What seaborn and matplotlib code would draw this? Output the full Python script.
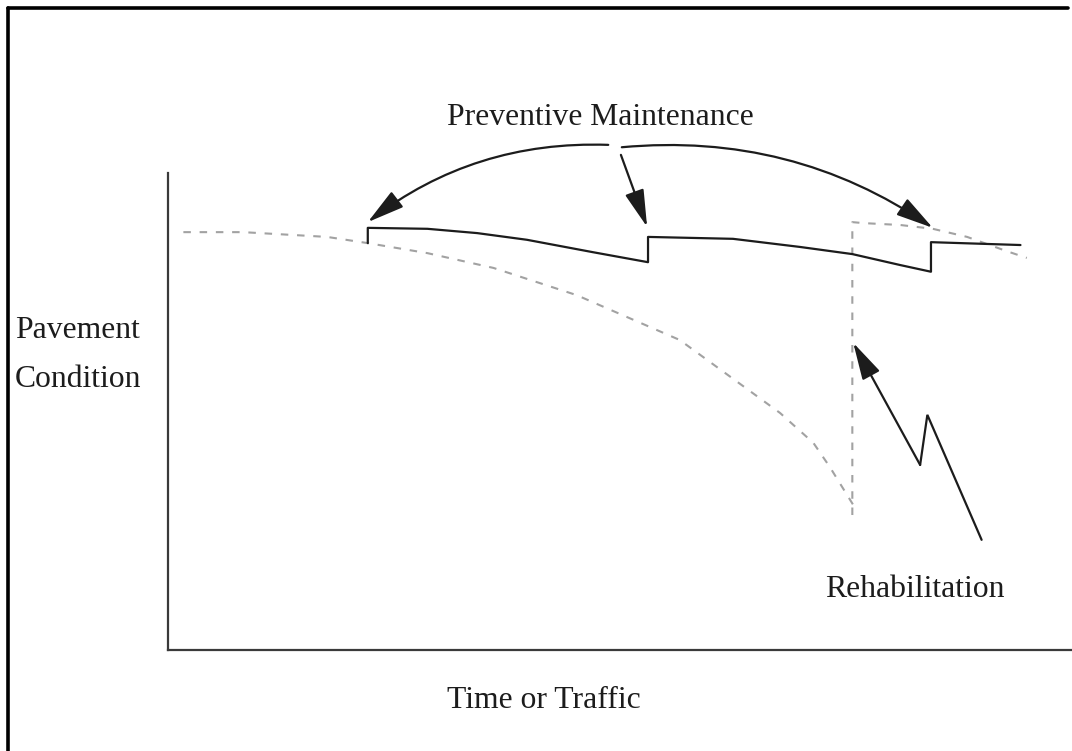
import numpy as np
import matplotlib
matplotlib.use("Agg")
import matplotlib.pyplot as plt
from matplotlib.lines import Line2D
import seaborn as sns

sns.set_theme(style="white")
plt.rcParams["font.family"] = ["Liberation Serif", "DejaVu Serif"]

INK = "#1c1c1c"
DASH = "#a2a2a2"
W, H = 1072, 751

# do-nothing deterioration curve (dashed)
decay_x = [1.7, 8.3, 17.6, 22.1, 28.7, 36.0, 45.2, 56.6, 67.7, 71.4, 73.2, 76.0]
decay_y = [87.6, 87.6, 86.6, 85.3, 83.2, 80.1, 74.4, 65.0, 49.7, 43.4, 38.4, 29.8]

# condition with preventive maintenance treatments (solid sawtooth)
pm_x = [22.1, 22.1, 28.7, 34.2, 39.7, 47.0, 53.1, 53.1, 62.5, 69.9, 75.7, 81.0, 84.4, 84.4, 94.3]
pm_y = [85.3, 88.5, 88.3, 87.4, 86.0, 83.4, 81.3, 86.6, 86.2, 84.5, 83.0, 80.7, 79.3, 85.5, 84.9]

# rehabilitation jump and following decay (dashed)
rehab_x = [75.7, 75.7, 76.9, 81.0, 84.6, 88.4, 92.8, 95.0]
rehab_y = [28.3, 89.7, 89.5, 89.1, 88.3, 86.6, 83.6, 82.2]

# arrows: (start, tip, curvature)
pm_arrows = [((48.7, 105.9), (22.1, 89.7), 0.18),
             ((50.1, 103.8), (53.0, 88.7), 0.0),
             ((50.2, 105.4), (84.6, 88.5), -0.18)]
bolt_x = [90.0, 84.0, 83.2]
bolt_y = [23.1, 49.3, 38.8]
bolt_tip = (75.8, 64.4)

fig = plt.figure(figsize=(W / 100, H / 100), dpi=100, facecolor="white")
ax = fig.add_axes([168 / W, 1 - 650 / H, 1 - 168 / W, (650 - 173) / H])
ax.set_xlim(0, 100)
ax.set_ylim(0, 100)
ax.set_xticks([])
ax.set_yticks([])
for side in ["top", "right"]:
    ax.spines[side].set_visible(False)
for side in ["left", "bottom"]:
    ax.spines[side].set_color("#3a3a3a")
    ax.spines[side].set_linewidth(1.6)

dash = (0, (3.6, 4.2))
sns.lineplot(x=decay_x, y=decay_y, sort=False, estimator=None, ax=ax,
             color=DASH, lw=1.5, linestyle=dash)
sns.lineplot(x=rehab_x, y=rehab_y, sort=False, estimator=None, ax=ax,
             color=DASH, lw=1.5, linestyle=dash)
sns.lineplot(x=pm_x, y=pm_y, sort=False, estimator=None, ax=ax,
             color=INK, lw=1.6)

head = "-|>,head_length=1.15,head_width=0.3"
for start, tip, rad in pm_arrows:
    ax.annotate("", xy=tip, xytext=start, annotation_clip=False,
                arrowprops=dict(arrowstyle=head, color=INK, lw=1.6,
                                mutation_scale=20, shrinkA=0, shrinkB=0,
                                connectionstyle=f"arc3,rad={rad}"))

ax.plot(bolt_x, bolt_y, color=INK, lw=1.6, solid_joinstyle="miter")
ax.annotate("", xy=bolt_tip, xytext=(bolt_x[-1], bolt_y[-1]),
            arrowprops=dict(arrowstyle=head, color=INK, lw=1.6,
                            mutation_scale=20, shrinkA=0, shrinkB=0))

fs = 22.8
def label(px, py, s):
    fig.text(px / W, 1 - py / H, s, fontsize=fs, color=INK, va="baseline", ha="left")

label(447, 125, "Preventive Maintenance")
label(15, 338, "Pavement")
label(15, 387, "Condition")
label(447, 708, "Time or Traffic")
label(825, 597, "Rehabilitation")

# picture frame (left and top edges)
fig.add_artist(Line2D([8 / W, 8 / W], [0, 1 - 8 / H], color="black", lw=2.6,
                      transform=fig.transFigure))
fig.add_artist(Line2D([8 / W, 1068 / W], [1 - 8 / H, 1 - 8 / H], color="black", lw=2.6,
                      transform=fig.transFigure))

fig.savefig("out.png", dpi=100, facecolor="white")
